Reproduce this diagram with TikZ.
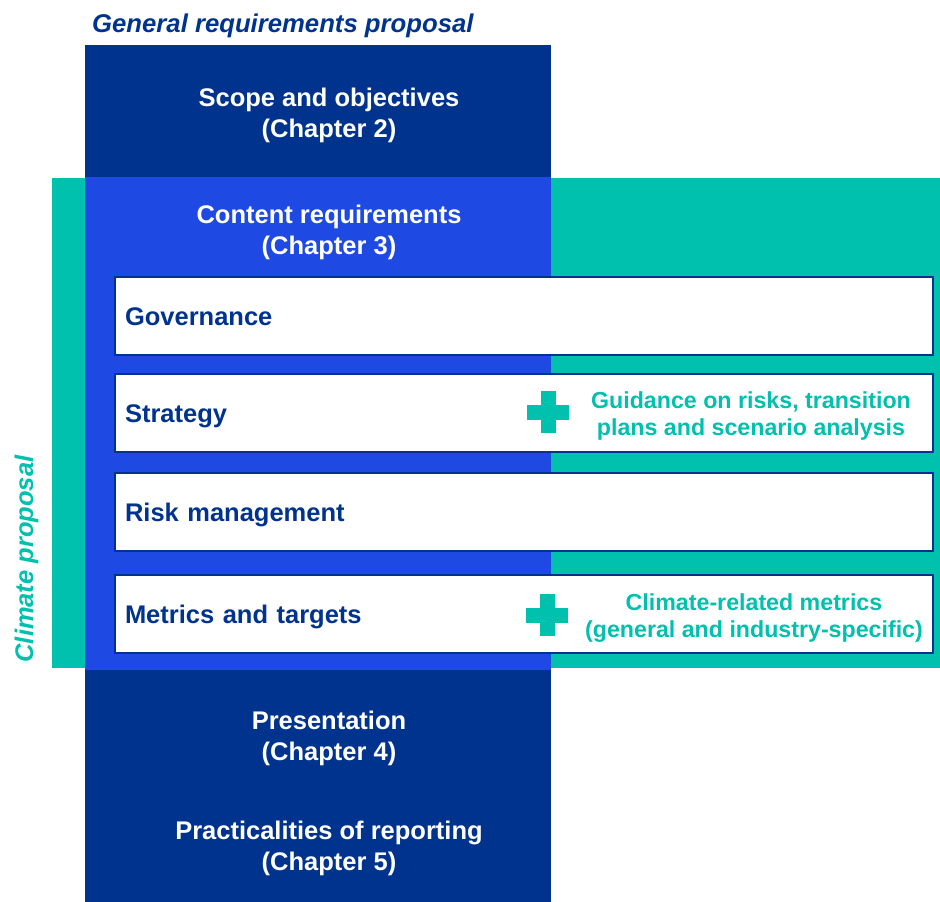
\documentclass[tikz,border=0pt]{standalone}
\usepackage{fontspec}
\setmainfont{Liberation Sans}
\usetikzlibrary{positioning}

\definecolor{kdark}{HTML}{00338D}
\definecolor{kmid}{HTML}{1E49E2}
\definecolor{kteal}{HTML}{00C0AE}

\tikzset{
   chap/.style={text=white, font=\bfseries\fontsize{25.5}{31}\selectfont, align=center, inner sep=0pt},
   pillar/.style={draw=kdark, line width=2pt, fill=white, anchor=north west, outer sep=0pt,
      minimum width=818pt, minimum height=78pt, text width=798pt, align=left,
      inner xsep=10pt, inner ysep=0pt, text height=18.5pt, text depth=0pt,
      text=kdark, font=\bfseries\fontsize{25.5}{31}\selectfont},
   extra/.style={text=kteal, font=\bfseries\fontsize{23.2}{27}\selectfont, align=center, inner sep=0pt},
}

\begin{document}
\begin{tikzpicture}[x=1pt,y=-1pt]
   \useasboundingbox (0,0) rectangle (940,902);
   
   % columns
   \fill[kdark] (85,45) rectangle (551,902);
   \fill[kteal] (52,178) rectangle (940,668);
   \fill[kmid] (85,177) rectangle (551,670);
   
   \node[anchor=base west, inner sep=0pt, text=kdark, font=\bfseries\itshape\fontsize{25.7}{31}\selectfont] (title) at (92,32) {General requirements proposal};
   \node[anchor=base, rotate=90, inner sep=0pt, text=kteal, font=\bfseries\itshape\fontsize{25.5}{31}\selectfont] (climate) at (33,559) {Climate proposal};
   
   \node[chap] (scope) at (329,115.5) {Scope and objectives\\(Chapter 2)};
   \node[chap] (content) at (329,232) {Content requirements\\(Chapter 3)};
   
   % the four pillars
   \node[pillar] (gov) at (115,277) {Governance};
   \node[pillar] (strat) at (115,374) {Strategy};
   \node[pillar] (risk) at (115,473) {Risk management};
   \node[pillar] (metrics) at (115,575) {Metrics and targets};
   
   \foreach \px/\py in {548/412, 547/615}{
      \fill[kteal] (\px-7.5,\py-21) rectangle (\px+7.5,\py+21);
      \fill[kteal] (\px-21,\py-7.5) rectangle (\px+21,\py+7.5);
   }
   
   \node[extra] (stratplus) at (751,415.5) {Guidance on risks, transition\\plans and scenario analysis};
   \node[extra] (metricsplus) at (754,618.5) {Climate-related metrics\\(general and industry-specific)};
   
   \node[chap] (present) at (329,738) {Presentation\\(Chapter 4)};
   \node[chap] (practical) at (329,848) {Practicalities of reporting\\(Chapter 5)};
   
\end{tikzpicture}
\end{document}
